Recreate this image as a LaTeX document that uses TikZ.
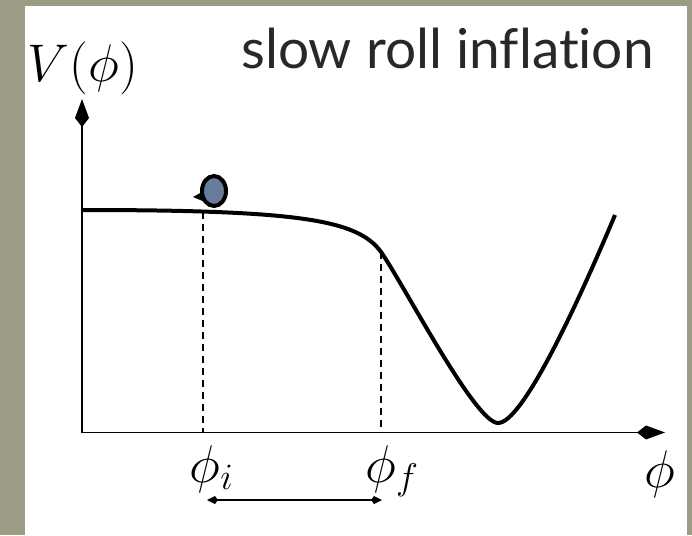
\RequirePackage{fix-cm}
\documentclass[tikz,border=0pt]{standalone}
\usepackage{fontspec}
\newfontfamily\titlefont[Ligatures=NoCommon]{Lato}
\usetikzlibrary{positioning,arrows.meta,shapes.geometric}
\definecolor{olivebg}{RGB}{156,156,132}
\definecolor{ballblue}{RGB}{104,124,156}
\definecolor{titlegray}{RGB}{40,40,40}

\begin{document}
\begin{tikzpicture}
  [x=1pt,y=-1pt,
   axis/.style={draw=black,line width=1.8pt,-{Kite[length=28pt,width=14pt,inset=9pt]}},
   potential/.style={draw=black,line width=4pt},
   guide/.style={draw=black,line width=2pt,dash pattern=on 7pt off 5pt},
   spanarrow/.style={draw=black,line width=2pt,
     {Kite[length=11pt,width=8pt,inset=3pt]}-{Kite[length=11pt,width=8pt,inset=3pt]}},
   ball/.style={ellipse,draw=black,fill=ballblue,line width=4pt,
     inner sep=0pt,minimum width=24pt,minimum height=30pt},
   mathlabel/.style={inner sep=0pt,font=\fontsize{53}{60}\selectfont},
   headline/.style={inner sep=0pt,text=titlegray,font=\titlefont\fontsize{55}{64}\selectfont}]
  \useasboundingbox (0,0) rectangle (692,535);
  \fill[olivebg] (0,0) rectangle (692,535);
  \fill[white] (25,6) rectangle (687,535);

  \coordinate (origin) at (82,432.5);
  \coordinate (ytip) at (82,99);
  \coordinate (xtip) at (665,432.5);
  \coordinate (start) at (82,210);
  \coordinate (initial) at (203,211.5);
  \coordinate (final) at (381,252);
  \coordinate (bottom) at (498,423);
  \coordinate (finish) at (615,215);

  % axes
  \draw[axis] (origin) -- (ytip);
  \draw[axis] (origin) -- (xtip);

  % guides down to the axis
  \draw[guide] (initial) -- (initial |- origin);
  \draw[guide] (final) -- (final |- origin);

  % the potential
  \draw[potential] (start) .. controls (300,210) and (358,220) .. (final)
    .. controls (403,283) and (475,423) .. (bottom)
    .. controls (522,423) and (575,310) .. (finish);

  % rolling ball
  \fill (193,197) -- (204,191) -- (205,202) -- cycle;
  \node[ball] (inflaton) at (214,191) {};

  \node[mathlabel] (vlabel) at (83,68.5) {$V(\phi)$};
  \node[headline,anchor=base] (heading) at (447.5,68) {slow roll inflation};
  \node[mathlabel,anchor=base] (ilabel) at (211.5,482) {$\phi_i$};
  \node[mathlabel,anchor=base] (flabel) at (392,482) {$\phi_f$};
  \node[mathlabel,anchor=base] (xlabel) at (660,487) {$\phi$};

  \coordinate (rangeleft) at (207,500);
  \coordinate (rangeright) at (382,500);
  \draw[spanarrow] (rangeleft) -- (rangeright);

\end{tikzpicture}
\end{document}
